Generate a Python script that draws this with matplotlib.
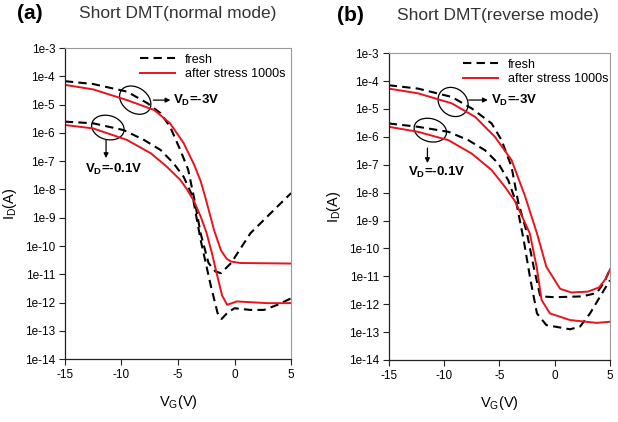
import numpy as np
import matplotlib.pyplot as plt
from matplotlib.patches import Ellipse
from matplotlib import transforms

plt.rcParams['font.family'] = ['Liberation Sans', 'DejaVu Sans']
plt.rcParams['mathtext.fontset'] = 'custom'
plt.rcParams['mathtext.rm'] = 'Liberation Sans'
plt.rcParams['mathtext.bf'] = 'Liberation Sans:bold'
plt.rcParams['mathtext.it'] = 'Liberation Sans:italic'

# values are log10(I_D)

# (a) normal mode
a_fresh_3v_vg = [-15, -12.5, -9.5, -7.7, -6.55, -5.7, -4.8, -4.1, -3.5, -3.0, -2.3, -1.7, -1.2, -0.3, 1.4, 3.8, 5]
a_fresh_3v_id = [-4.17, -4.27, -4.54, -4.95, -5.3, -5.78, -6.6, -7.3, -8.45, -9.55, -10.6, -10.9, -10.96, -10.6, -9.55, -8.6, -8.13]
a_fresh_01v_vg = [-15, -12.5, -9.8, -8.0, -6.55, -5.4, -4.5, -3.7, -3.0, -2.1, -1.5, -1.15, -0.6, 0, 1.4, 2.6, 3.8, 5]
a_fresh_01v_id = [-5.6, -5.66, -5.9, -6.25, -6.6, -7.07, -7.55, -8.25, -9.78, -11.4, -12.37, -12.58, -12.35, -12.2, -12.26, -12.26, -12.08, -11.85]
a_stress_3v_vg = [-15, -12.5, -9.5, -7.1, -5.7, -4.5, -3.6, -3.0, -2.6, -2.2, -1.8, -1.2, -0.7, -0.3, 0.5, 5]
a_stress_3v_id = [-4.3, -4.46, -4.84, -5.19, -5.66, -6.36, -7.1, -7.7, -8.25, -8.85, -9.45, -10.15, -10.45, -10.55, -10.6, -10.62]
a_stress_01v_vg = [-15, -12.5, -9.5, -7.4, -6.0, -4.8, -4.2, -3.6, -3.0, -2.5, -2.0, -1.5, -1.1, -0.65, 0.2, 2.9, 5]
a_stress_01v_id = [-5.72, -5.84, -6.25, -6.72, -7.19, -7.66, -8.0, -8.4, -8.95, -9.5, -10.25, -11.1, -11.75, -12.08, -11.96, -12.02, -12.02]

# (b) reverse mode
b_fresh_3v_vg = [-15, -12.35, -9.3, -7.5, -5.7, -4.8, -3.9, -3.3, -2.5, -1.9, -1.3, 0, 2.5, 3.8, 4.5, 5]
b_fresh_3v_id = [-4.15, -4.27, -4.57, -4.98, -5.52, -6.12, -7.07, -8.33, -9.46, -10.66, -11.72, -11.75, -11.72, -11.6, -11.2, -10.75]
b_fresh_01v_vg = [-15, -12.35, -9.6, -7.8, -6.3, -5.1, -4.2, -3.45, -2.8, -2.2, -1.6, -0.75, 1.4, 2.3, 3.2, 4.1, 5]
b_fresh_01v_id = [-5.52, -5.64, -5.82, -6.12, -6.48, -6.95, -7.55, -8.39, -9.7, -11.1, -12.33, -12.75, -12.9, -12.8, -12.33, -11.73, -11.14]
b_stress_3v_vg = [-15, -12.35, -9.3, -7.2, -5.4, -3.9, -2.7, -1.6, -0.75, 0.5, 1.5, 3.0, 4.0, 4.6, 5]
b_stress_3v_id = [-4.27, -4.44, -4.8, -5.28, -6.0, -6.83, -8.1, -9.46, -10.66, -11.45, -11.58, -11.55, -11.4, -11.1, -10.75]
b_stress_01v_vg = [-15, -12.35, -9.6, -7.5, -5.7, -4.5, -3.6, -3.3, -2.25, -1.63, -1.18, -0.43, 1.4, 3.8, 5]
b_stress_01v_id = [-5.64, -5.82, -6.12, -6.6, -7.19, -7.79, -8.3, -8.55, -9.46, -10.66, -11.85, -12.33, -12.57, -12.67, -12.63]

ytick_exp = list(range(-14, -2))
ytick_labels = [f"1e{e}" for e in ytick_exp]
xticks = [-15, -10, -5, 0, 5]

fig = plt.figure(figsize=(6.18, 4.22), dpi=100)
fig.patch.set_facecolor('white')


def ring(ax, x, y, w, h, ang):
    tr = fig.dpi_scale_trans + transforms.ScaledTranslation(x, 10 ** y, ax.transData)
    ax.add_patch(Ellipse((0, 0), w, h, angle=ang, transform=tr, fill=False,
                         lw=0.9, ec='black', clip_on=False))


def arrow(ax, x0, y0, x1, y1):
    ax.annotate("", xy=(x1, 10 ** y1), xytext=(x0, 10 ** y0),
                arrowprops=dict(arrowstyle='-|>', color='black', lw=0.9,
                                mutation_scale=7, shrinkA=0, shrinkB=0))


def panel(rect, curves, notes, leg_x):
    ax = fig.add_axes(rect)
    dash = (0, (4, 2.5))
    for i, (vg, lid, kind) in enumerate(curves):
        y = 10 ** np.array(lid)
        if kind == 'fresh':
            ax.plot(vg, y, color='black', lw=1.5, ls=dash,
                    label='fresh' if i == 0 else None)
        else:
            ax.plot(vg, y, color='#e8131b', lw=1.4,
                    label='after stress 1000s' if i == 2 else None)
    ax.set_yscale('log')
    ax.set_xlim(-15, 5)
    ax.set_ylim(1e-14, 1e-3)
    ax.set_yticks([10.0 ** e for e in ytick_exp])
    ax.set_yticklabels(ytick_labels)
    ax.minorticks_off()
    ax.set_xticks(xticks)
    ax.set_xticklabels([str(t) for t in xticks])
    ax.tick_params(direction='out', length=4, width=0.8, labelsize=8.5, pad=3,
                   top=False, right=False, color='#222222')
    for s in ['top', 'right']:
        ax.spines[s].set_color('#999999')
        ax.spines[s].set_linewidth(0.8)
    for s in ['left', 'bottom']:
        ax.spines[s].set_color('#222222')
        ax.spines[s].set_linewidth(0.9)
    ax.set_xlabel(r'V$_\mathrm{G}$(V)', fontsize=10.5, labelpad=9)
    ax.set_ylabel(r'I$_\mathrm{D}$(A)', fontsize=10.5, labelpad=4)
    ax.legend(loc='upper left', bbox_to_anchor=(leg_x, 0.99), frameon=False,
              fontsize=9, handlelength=2.8, handletextpad=0.8, borderpad=0.2,
              labelspacing=0.2, borderaxespad=0)
    (e1, e2, a1, a2, t1, t2) = notes
    ring(ax, *e1)
    ring(ax, *e2)
    arrow(ax, *a1)
    arrow(ax, *a2)
    ax.text(t1[0], 10 ** t1[1], r'$\mathbf{V_D}$=-3V', fontsize=9.5,
            fontweight='bold', ha='left', va='center')
    ax.text(t2[0], 10 ** t2[1], r'$\mathbf{V_D}$=-0.1V', fontsize=9.5,
            fontweight='bold', ha='center', va='center')
    return ax


panel([0.105, 0.149, 0.366, 0.737],
      [(a_fresh_3v_vg, a_fresh_3v_id, 'fresh'),
       (a_fresh_01v_vg, a_fresh_01v_id, 'fresh'),
       (a_stress_3v_vg, a_stress_3v_id, 'stress'),
       (a_stress_01v_vg, a_stress_01v_id, 'stress')],
      ((-8.78, -4.84, 0.34, 0.25, -35), (-11.2, -5.81, 0.33, 0.24, -15),
       (-7.18, -4.84, -5.67, -4.84), (-11.36, -6.25, -11.36, -6.89),
       (-5.45, -4.84), (-10.7, -7.28)), 0.32)

panel([0.629, 0.147, 0.358, 0.727],
      [(b_fresh_3v_vg, b_fresh_3v_id, 'fresh'),
       (b_fresh_01v_vg, b_fresh_01v_id, 'fresh'),
       (b_stress_3v_vg, b_stress_3v_id, 'stress'),
       (b_stress_01v_vg, b_stress_01v_id, 'stress')],
      ((-9.18, -4.75, 0.32, 0.27, -40), (-11.24, -5.76, 0.33, 0.23, -15),
       (-7.76, -4.68, -6.04, -4.68), (-11.5, -6.4, -11.5, -6.94),
       (-5.75, -4.68), (-10.7, -7.27)), 0.325)

fig.text(0.0275, 0.969, '(a)', fontsize=15, fontweight='bold', ha='left', va='center')
fig.text(0.288, 0.969, 'Short DMT(normal mode)', fontsize=12.5, color='#333333',
         ha='center', va='center')
fig.text(0.545, 0.964, '(b)', fontsize=15, fontweight='bold', ha='left', va='center')
fig.text(0.806, 0.964, 'Short DMT(reverse mode)', fontsize=12.5, color='#333333',
         ha='center', va='center')

fig.savefig('out.png', dpi=100)
